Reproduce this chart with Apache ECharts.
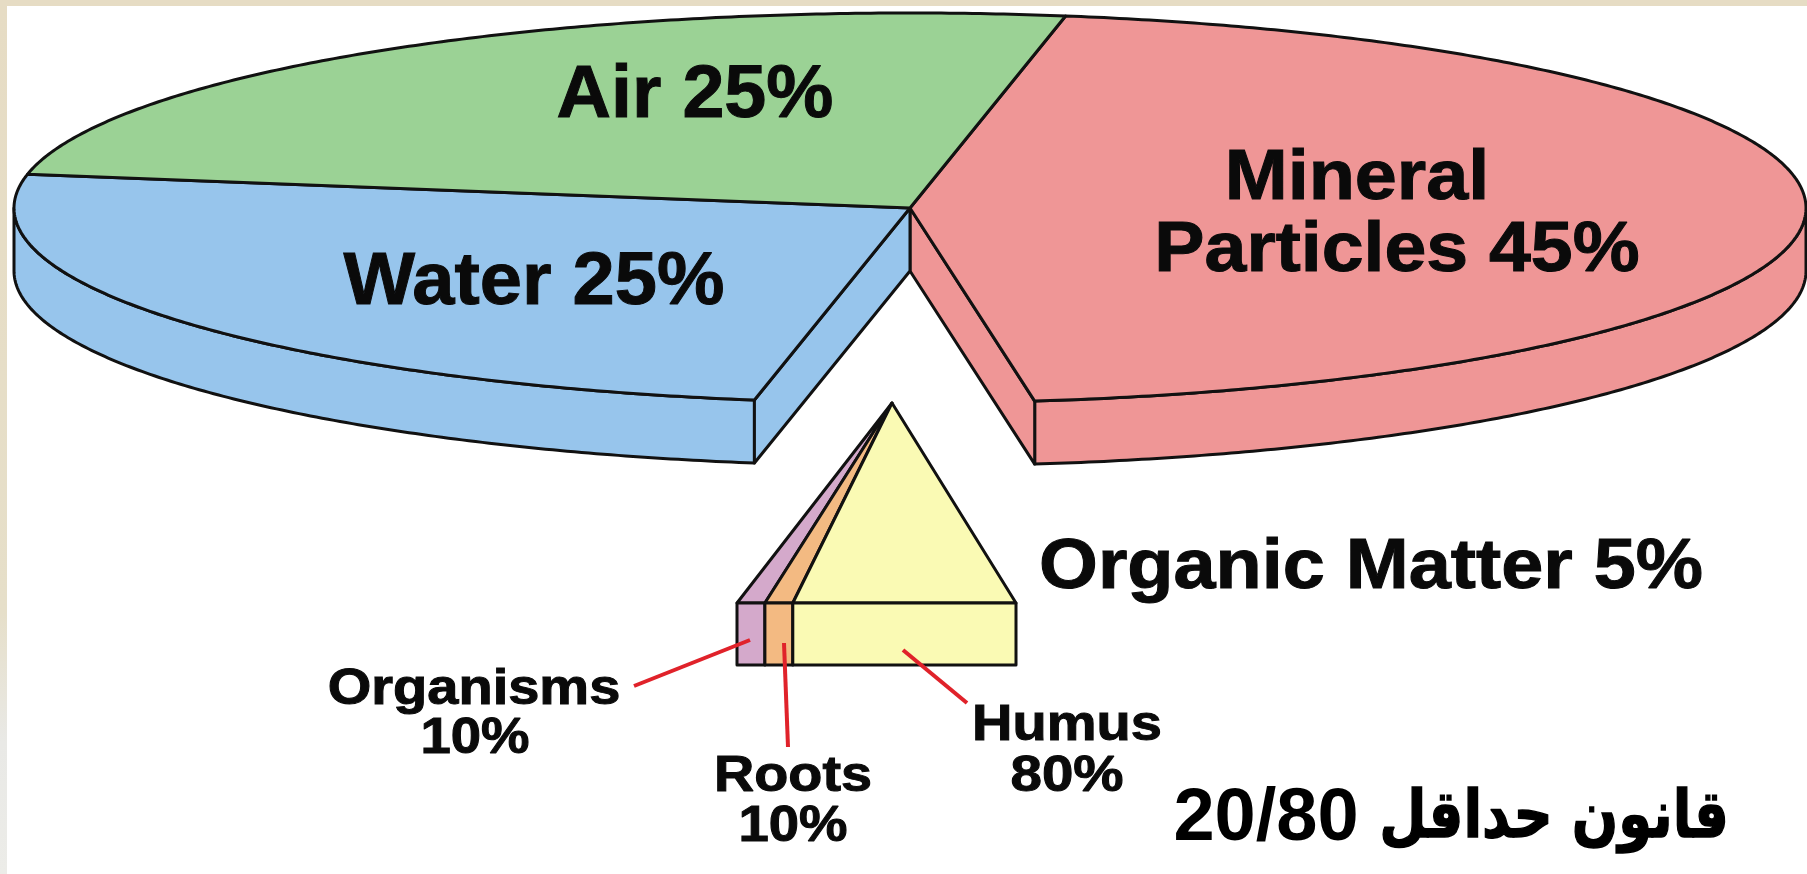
<!DOCTYPE html>
<html>
<head>
<meta charset="utf-8">
<title>Soil composition</title>
<style>
  html, body { margin: 0; padding: 0; background: #e6dcc4; }
  #chart { width: 1807px; height: 874px; }
</style>
<script src="https://cdn.jsdelivr.net/npm/echarts@6/dist/echarts.min.js"></script>
</head>
<body>
<div id="chart"></div>
<script>
// clockwise from the air/mineral edge
const sliceNames = ['Mineral Particles', 'Organic Matter', 'Water', 'Air'];
const sliceValues = [45, 5, 25, 25];
const organicNames = ['Organisms', 'Roots', 'Humus'];
const organicValues = [10, 10, 80];
const titleWords = ['قانون حداقل', '20/80'];

const sliceColors = ['#ef9696', null, '#97c5ec', '#9bd295'];
const organicColors = ['#d4a9cb', '#f3ba82', '#fafab4'];
const LINE = '#111';
const RED = '#e0222a';

// pie layout, in picture pixels
const pie = { cx: 910, cy: 208, rx: 896, ry: 195, depth: 63, start: 80 };
// the pulled out organic slice
const wedge = { apexX: 892, apexY: 403, left: 737, right: 1016, top: 603, bottom: 665 };

const total = sliceValues.reduce((a, b) => a + b, 0);
const organicTotal = organicValues.reduce((a, b) => a + b, 0);

const rimPoint = (deg, drop, api) => {
  const r = deg * Math.PI / 180;
  return api.coord([pie.cx + pie.rx * Math.cos(r), pie.cy - pie.ry * Math.sin(r) + (drop || 0)]);
};

const arcPoints = (from, to, drop, api) => {
  const pts = [];
  const n = Math.max(2, Math.ceil(Math.abs(to - from) * 2));
  for (let i = 0; i <= n; i++) pts.push(rimPoint(from + (to - from) * i / n, drop, api));
  return pts;
};

const faceStyle = (color) => ({ fill: color, stroke: LINE, lineWidth: 3, lineJoin: 'round' });

const renderSlice = (params, api) => {
  const i = params.dataIndex;
  if (!sliceColors[i]) return { type: 'group', children: [] }; // organic slice is drawn below
  const before = sliceValues.slice(0, i).reduce((a, b) => a + b, 0);
  const a0 = pie.start - before / total * 360;
  const a1 = a0 - api.value(0) / total * 360;
  const color = sliceColors[i];
  const centre = api.coord([pie.cx, pie.cy]);
  const centreLow = api.coord([pie.cx, pie.cy + pie.depth]);
  const children = [];

  // outer wall, only the part of the rim that faces the viewer
  const w0 = Math.min(a0, 0);
  const w1 = Math.max(a1, -180);
  if (w0 > w1) {
    const top = arcPoints(w0, w1, 0, api);
    const low = arcPoints(w1, w0, pie.depth, api);
    children.push({ type: 'polygon', shape: { points: top.concat(low) }, style: faceStyle(color) });
  }
  // cut faces on both sides of the gap left by the organic slice
  const gapEdge = i === 0 ? a1 : a0;
  if (i === 0 || i === 2) {
    children.push({
      type: 'polygon',
      shape: { points: [centre, rimPoint(gapEdge, 0, api), rimPoint(gapEdge, pie.depth, api), centreLow] },
      style: faceStyle(color)
    });
  }
  children.push({
    type: 'polygon',
    shape: { points: [centre].concat(arcPoints(a0, a1, 0, api)) },
    style: faceStyle(color)
  });
  return { type: 'group', children };
};

const renderOrganic = (params, api) => {
  const i = params.dataIndex;
  const w = wedge.right - wedge.left;
  const before = organicValues.slice(0, i).reduce((a, b) => a + b, 0);
  const x0 = wedge.left + before / organicTotal * w;
  const x1 = x0 + api.value(0) / organicTotal * w;
  const color = organicColors[i];
  const c = (x, y) => api.coord([x, y]);
  return {
    type: 'group',
    children: [
      { type: 'polygon', shape: { points: [c(wedge.apexX, wedge.apexY), c(x0, wedge.top), c(x1, wedge.top)] }, style: faceStyle(color) },
      { type: 'polygon', shape: { points: [c(x0, wedge.top), c(x1, wedge.top), c(x1, wedge.bottom), c(x0, wedge.bottom)] }, style: faceStyle(color) }
    ]
  };
};

// text and leader lines, [x, y] of each
const labelText = ['Air 25%', 'Mineral', 'Particles 45%', 'Water 25%', 'Organic Matter 5%', 'Organisms', '10%', 'Roots', '10%', 'Humus', '80%'];
const labelPos = [[695, 97], [1357, 180], [1397, 252], [534, 284], [1371, 569], [474, 690], [475, 739], [793, 777], [793, 827], [1067, 726], [1067, 777]];
const labelSize = [74, 70, 70, 74, 70, 50, 50, 50, 50, 50, 50];
const labelStretch = [1.02, 1.08, 1.075, 1.025, 1.08, 1.12, 1.09, 1.115, 1.09, 1.12, 1.13];
const leaderPos = [[[634, 686], [750, 640]], [[784, 643], [788, 747]], [[903, 650], [967, 703]]];
const titlePos = [[1554, 820], [1266, 820]];
const titleFont = ['bold 66px "DejaVu Sans", sans-serif', 'bold 74px "Liberation Sans", Arial, sans-serif'];
const titleStretch = [0.825, 1];
const titleWeight = [1.5, 0];

const renderLabel = (params, api) => {
  const i = params.dataIndex;
  const p = api.coord(labelPos[i]);
  return {
    type: 'text',
    x: p[0],
    y: p[1],
    scaleX: labelStretch[i],
    style: {
      text: labelText[i],
      fill: '#0a0a0a',
      stroke: '#0a0a0a',
      lineWidth: 1,
      font: 'bold ' + labelSize[i] + 'px "Liberation Sans", Arial, sans-serif',
      align: 'center',
      verticalAlign: 'middle'
    }
  };
};

const renderLeader = (params, api) => {
  const pts = leaderPos[params.dataIndex];
  const a = api.coord(pts[0]);
  const b = api.coord(pts[1]);
  return {
    type: 'line',
    shape: { x1: a[0], y1: a[1], x2: b[0], y2: b[1] },
    style: { stroke: RED, lineWidth: 4 }
  };
};

const renderTitle = (params, api) => {
  const i = params.dataIndex;
  const p = api.coord(titlePos[i]);
  return {
    type: 'text',
    x: p[0],
    y: p[1],
    scaleX: titleStretch[i],
    style: {
      text: titleWords[i],
      fill: '#000',
      stroke: '#000',
      lineWidth: titleWeight[i],
      font: titleFont[i],
      align: 'center',
      verticalAlign: 'middle'
    }
  };
};

const chart = echarts.init(document.getElementById('chart'));
chart.setOption({
  animation: false,
  backgroundColor: new echarts.graphic.LinearGradient(0, 0, 0, 1, [
    { offset: 0, color: '#e6dcc4' },
    { offset: 0.7, color: '#e6dfc9' },
    { offset: 0.85, color: '#e9e9e6' },
    { offset: 1, color: '#ecece8' }
  ]),
  grid: { left: 0, right: 0, top: 0, bottom: 0 },
  xAxis: { type: 'value', min: 0, max: 1807, show: false },
  yAxis: { type: 'value', min: 0, max: 874, inverse: true, show: false },
  graphic: [{
    type: 'rect',
    z: -1,
    shape: { x: 7, y: 6, width: 1800, height: 868 },
    style: { fill: '#fff' }
  }],
  series: [
    { type: 'custom', name: 'Soil', renderItem: renderSlice, data: sliceValues.map(v => [v]), clip: false, silent: true },
    { type: 'custom', name: 'Organic', renderItem: renderOrganic, data: organicValues.map(v => [v]), clip: false, silent: true },
    { type: 'custom', name: 'Leaders', renderItem: renderLeader, data: leaderPos.map((_, i) => [i]), silent: true },
    { type: 'custom', name: 'Labels', renderItem: renderLabel, data: labelText.map((_, i) => [i]), silent: true },
    { type: 'custom', name: 'Title', renderItem: renderTitle, data: titleWords.map((_, i) => [i]), silent: true }
  ]
});
</script>
</body>
</html>
